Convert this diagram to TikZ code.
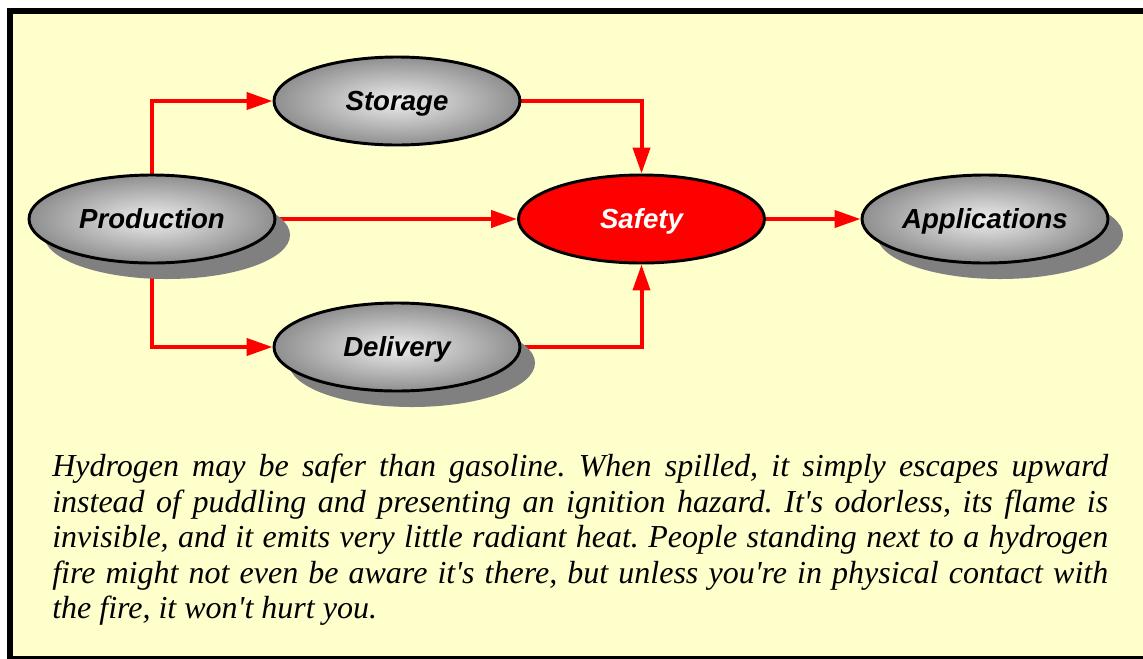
\documentclass[tikz,border=0pt]{standalone}
\usepackage{fontspec}
\setmainfont{Liberation Serif}[Ligatures=TeXOff]
\newfontfamily\labfont{Liberation Sans}
\usetikzlibrary{arrows.meta,shapes.geometric,shadows}
\definecolor{bgyellow}{HTML}{FFFFCC}
\definecolor{shadowgray}{HTML}{808080}
\pgfdeclarelayer{bglayer}
\pgfdeclarelayer{edgelayer}
\pgfsetlayers{bglayer,edgelayer,main}
\tikzset{
  ellbase/.style={ellipse, draw=black, line width=2.2pt, minimum width=246*0.75pt, minimum height=88*0.75pt, inner sep=0pt,
    text height=14.5pt, text depth=0pt,
    font=\labfont\bfseries\itshape\fontsize{20.7}{24}\selectfont},
  grayell/.style={ellbase, inner color=black!7, outer color=black!44},
  shadowed/.style={drop shadow={shadow xshift=15*0.75pt, shadow yshift=-16*0.75pt, fill=shadowgray, opacity=1}},
  redell/.style={ellbase, fill=red, text=white},
  flow/.style={draw=red, line width=3pt, -{Triangle[length=26*0.75pt, width=17*0.75pt]}},
}
\begin{document}
\begin{tikzpicture}[x=0.75pt,y=-0.75pt]
\useasboundingbox (0,0) rectangle (1143,658);
\begin{pgfonlayer}{bglayer}
\fill[white] (0,0) rectangle (1143,658);
\draw[line width=4.5pt, fill=bgyellow] (10,10.5) rectangle (1152,658.5);
\end{pgfonlayer}
\node[grayell, shadowed] (P) at (152,219) {Production};
\node[grayell] (S) at (397,101) {Storage};
\node[grayell, shadowed] (D) at (397,347) {Delivery};
\node[redell] (F) at (641.5,219) {Safety};
\node[grayell, shadowed] (A) at (985,219) {Applications};
\begin{pgfonlayer}{edgelayer}
\draw[flow] (P) |- (S);
\draw[flow] (P) |- (D);
\draw[flow] (P) -- (F);
\draw[flow] (S) -| (F);
\draw[flow] (D) -| (F);
\draw[flow] (F) -- (A);
\end{pgfonlayer}
\node[anchor=north west, inner sep=0pt, text width=1056*0.75pt, align=justify,
  font=\itshape\fontsize{24}{26.6}\selectfont\frenchspacing] (T) at (52,454)
{Hydrogen may be safer than gasoline. When spilled, it simply escapes upward\linebreak
instead of puddling and presenting an ignition hazard. It's odorless, its flame is\linebreak
invisible, and it emits very little radiant heat. People standing next to a hydrogen\linebreak
fire might not even be aware it's there, but unless you're in physical contact with\linebreak
the fire, it won't hurt you.};
\end{tikzpicture}
\end{document}
